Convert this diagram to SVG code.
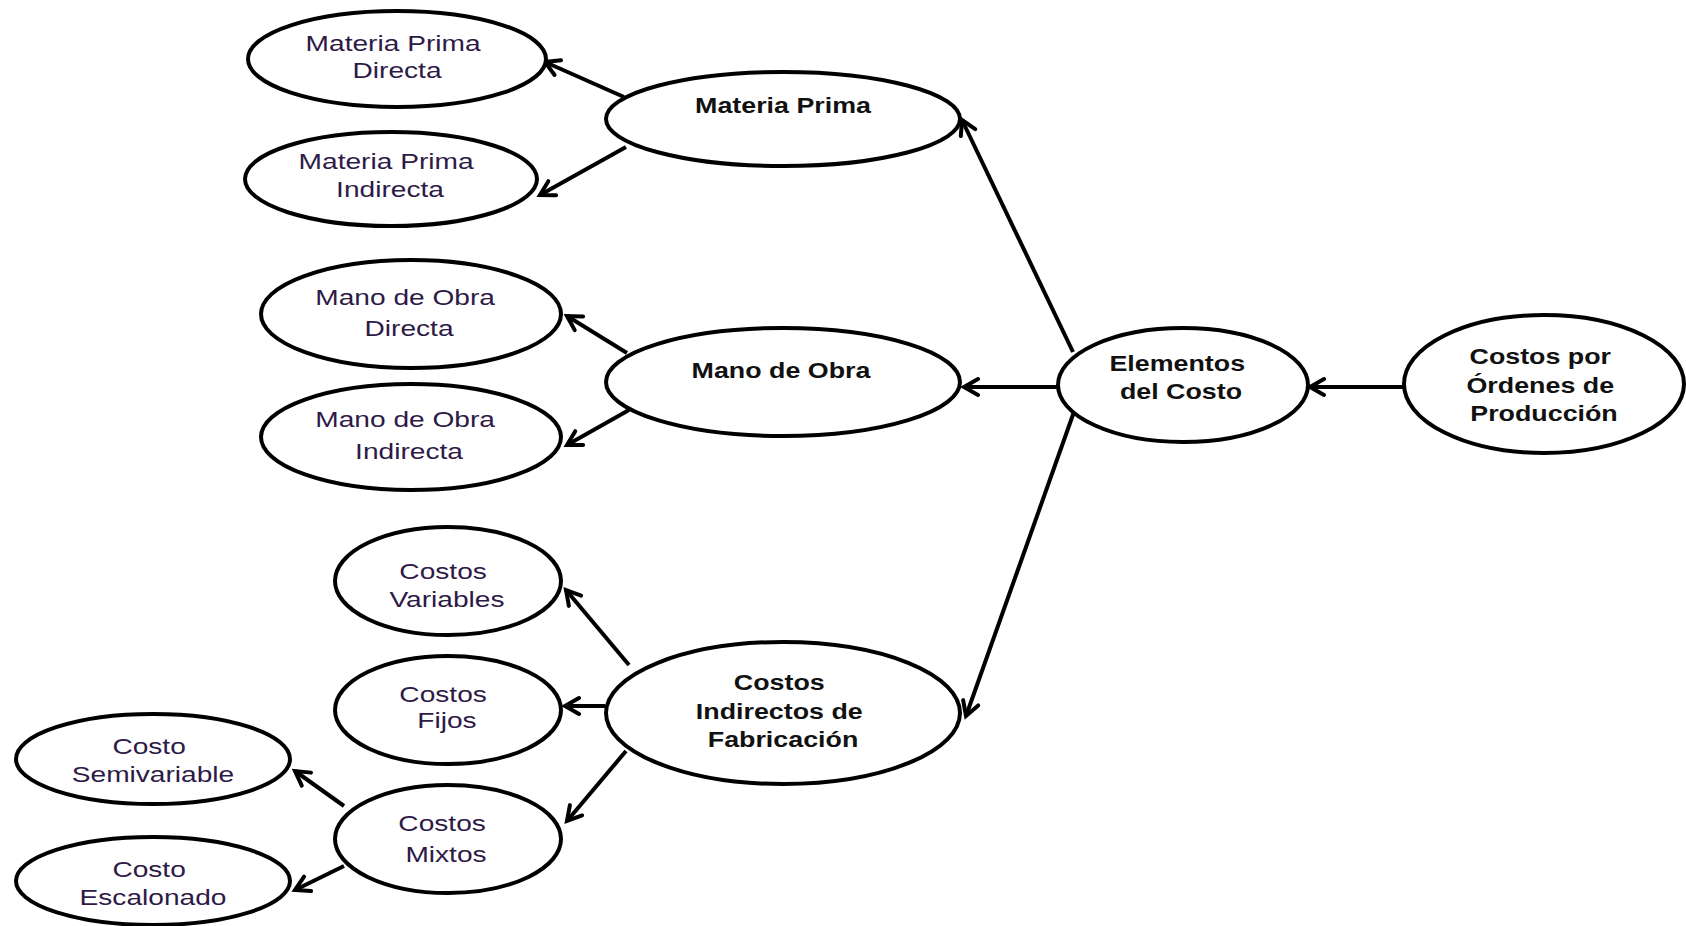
<svg xmlns="http://www.w3.org/2000/svg" width="1686" height="926" viewBox="0 0 1686 926">
  <style>
    .node { fill: #ffffff; stroke: #000000; stroke-width: 4; }
    .edge { stroke: #000000; stroke-width: 4; fill: none; marker-end: url(#arrow); }
    .leaf { font-family: "Liberation Sans", Arial, sans-serif; font-size: 22.5px; fill: #2e1a47; text-anchor: middle; }
    .main { font-family: "Liberation Sans", Arial, sans-serif; font-size: 22px; font-weight: bold; fill: #111111; text-anchor: middle; }
  </style>
  <defs>
    <!-- open chevron arrowhead, tip at the line end -->
    <marker id="arrow" markerUnits="userSpaceOnUse" markerWidth="24" markerHeight="24" viewBox="-20 -12 24 24" refX="0" refY="0" orient="auto">
      <path d="M-14,-8 L0,0 L-14,8" fill="none" stroke="#000000" stroke-width="4" stroke-linecap="round" stroke-linejoin="miter"/>
    </marker>
  </defs>
  <rect width="1686" height="926" fill="#ffffff"/>

  <!-- connectors -->
  <g id="connectors">
    <line class="edge" x1="1404" y1="387" x2="1310" y2="387"/>
    <line class="edge" x1="1073" y1="352" x2="962" y2="120"/>
    <line class="edge" x1="1057" y1="387" x2="964" y2="387"/>
    <line class="edge" x1="1075" y1="409" x2="966" y2="716"/>
    <line class="edge" x1="624" y1="97" x2="545" y2="62"/>
    <line class="edge" x1="626" y1="147" x2="540" y2="195"/>
    <line class="edge" x1="627" y1="353" x2="567" y2="316"/>
    <line class="edge" x1="629" y1="410" x2="567" y2="445"/>
    <line class="edge" x1="629" y1="665" x2="566" y2="590"/>
    <line class="edge" x1="605" y1="706" x2="565" y2="706"/>
    <line class="edge" x1="626" y1="751" x2="567" y2="821"/>
    <line class="edge" x1="344" y1="806" x2="295" y2="771"/>
    <line class="edge" x1="344" y1="866" x2="295" y2="890"/>
  </g>

  <!-- Costos por Órdenes de Producción -->
  <g id="costos-ordenes">
    <ellipse class="node" cx="1544" cy="384" rx="140" ry="69"/>
    <text class="main" transform="translate(1544 0) scale(1.22 1)">
      <tspan x="0" y="364">Costos por</tspan>
      <tspan x="0" y="393">Órdenes de</tspan>
      <tspan x="0" y="421">Producción</tspan>
    </text>
  </g>

  <!-- Elementos del Costo -->
  <g id="elementos">
    <ellipse class="node" cx="1183" cy="385" rx="125" ry="57"/>
    <text class="main" transform="translate(1181 0) scale(1.22 1)">
      <tspan x="0" y="371">Elementos</tspan>
      <tspan x="0" y="399">del Costo</tspan>
    </text>
  </g>

  <!-- Materia Prima -->
  <g id="materia-prima">
    <ellipse class="node" cx="783" cy="119" rx="177" ry="47"/>
    <text class="main" transform="translate(783 0) scale(1.22 1)">
      <tspan x="0" y="113">Materia Prima</tspan>
    </text>
  </g>

  <g id="mp-directa">
    <ellipse class="node" cx="397" cy="59" rx="149" ry="48"/>
    <text class="leaf" transform="translate(397 0) scale(1.25 1)">
      <tspan x="0" y="51">Materia Prima</tspan>
      <tspan x="0" y="78">Directa</tspan>
    </text>
  </g>

  <g id="mp-indirecta">
    <ellipse class="node" cx="391" cy="179" rx="146" ry="47"/>
    <text class="leaf" transform="translate(390 0) scale(1.25 1)">
      <tspan x="0" y="169">Materia Prima</tspan>
      <tspan x="0" y="197">Indirecta</tspan>
    </text>
  </g>

  <!-- Mano de Obra -->
  <g id="mano-obra">
    <ellipse class="node" cx="783" cy="382" rx="177" ry="54"/>
    <text class="main" transform="translate(781 0) scale(1.22 1)">
      <tspan x="0" y="378">Mano de Obra</tspan>
    </text>
  </g>

  <g id="mo-directa">
    <ellipse class="node" cx="411" cy="314" rx="150" ry="54"/>
    <text class="leaf" transform="translate(409 0) scale(1.25 1)">
      <tspan x="0" y="305">Mano de Obra</tspan>
      <tspan x="0" y="336">Directa</tspan>
    </text>
  </g>

  <g id="mo-indirecta">
    <ellipse class="node" cx="411" cy="437" rx="150" ry="53"/>
    <text class="leaf" transform="translate(409 0) scale(1.25 1)">
      <tspan x="0" y="427">Mano de Obra</tspan>
      <tspan x="0" y="459">Indirecta</tspan>
    </text>
  </g>

  <!-- Costos Indirectos de Fabricación -->
  <g id="cif">
    <ellipse class="node" cx="783" cy="713" rx="177" ry="71"/>
    <text class="main" transform="translate(783 0) scale(1.22 1)">
      <tspan x="0" y="690">Costos</tspan>
      <tspan x="0" y="719">Indirectos de</tspan>
      <tspan x="0" y="747">Fabricación</tspan>
    </text>
  </g>

  <g id="costos-variables">
    <ellipse class="node" cx="448" cy="581" rx="113" ry="54"/>
    <text class="leaf" transform="translate(447 0) scale(1.25 1)">
      <tspan x="0" y="579">Costos</tspan>
      <tspan x="0" y="607">Variables</tspan>
    </text>
  </g>

  <g id="costos-fijos">
    <ellipse class="node" cx="448" cy="710" rx="113" ry="54"/>
    <text class="leaf" transform="translate(447 0) scale(1.25 1)">
      <tspan x="0" y="702">Costos</tspan>
      <tspan x="0" y="728">Fijos</tspan>
    </text>
  </g>

  <g id="costos-mixtos">
    <ellipse class="node" cx="448" cy="839" rx="113" ry="54"/>
    <text class="leaf" transform="translate(446 0) scale(1.25 1)">
      <tspan x="0" y="831">Costos</tspan>
      <tspan x="0" y="862">Mixtos</tspan>
    </text>
  </g>

  <g id="costo-semivariable">
    <ellipse class="node" cx="153" cy="759" rx="137" ry="45"/>
    <text class="leaf" transform="translate(153 0) scale(1.25 1)">
      <tspan x="0" y="754">Costo</tspan>
      <tspan x="0" y="782">Semivariable</tspan>
    </text>
  </g>

  <g id="costo-escalonado">
    <ellipse class="node" cx="153" cy="881" rx="137" ry="44"/>
    <text class="leaf" transform="translate(153 0) scale(1.25 1)">
      <tspan x="0" y="877">Costo</tspan>
      <tspan x="0" y="905">Escalonado</tspan>
    </text>
  </g>
</svg>
